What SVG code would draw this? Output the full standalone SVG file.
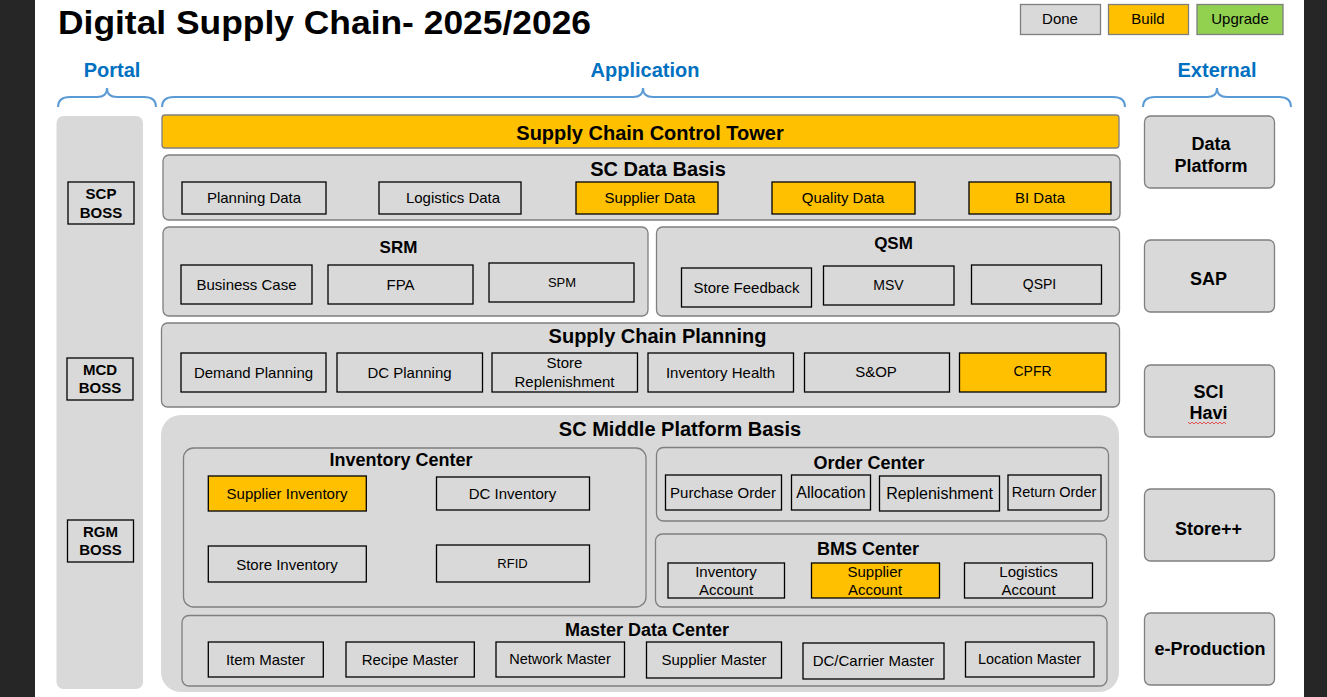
<svg xmlns="http://www.w3.org/2000/svg" width="1327" height="697" viewBox="0 0 1327 697">
<style>
text{font-family:"Liberation Sans",Arial,sans-serif;fill:#000;text-anchor:middle;dominant-baseline:central}
.b{font-weight:bold}
.t18{font-size:18px;font-weight:bold}
.t20{font-size:20px;font-weight:bold}
.t15{font-size:15px}
.blue{fill:#0070c0;font-size:20px;font-weight:bold}
.cont{fill:#d9d9d9;stroke:#7f7f7f;stroke-width:1.3}
.box{fill:#d9d9d9;stroke:#000;stroke-width:1.3}
.yel{fill:#ffc000;stroke:#000;stroke-width:1.3}
.brace{fill:none;stroke:#5b9bd5;stroke-width:2}
</style>
<rect x="0" y="0" width="1327" height="697" fill="#fff"/>
<rect x="0" y="0" width="35" height="697" fill="#262626"/>
<rect x="1304" y="0" width="23" height="697" fill="#262626"/>

<g id="title">
<text x="58" y="22" style="font-size:33px;font-weight:bold;text-anchor:start" textLength="533" lengthAdjust="spacingAndGlyphs">Digital Supply Chain- 2025/2026</text>
</g>

<g id="legend">
<rect x="1020.5" y="4.5" width="80" height="30" fill="#d9d9d9" stroke="#7f7f7f" stroke-width="1.3"/>
<text class="t15" x="1060" y="18">Done</text>
<rect x="1108.5" y="4.5" width="80" height="30" fill="#ffc000" stroke="#7f7f7f" stroke-width="1.3"/>
<text class="t15" x="1148" y="18.5">Build</text>
<rect x="1197" y="4.5" width="86" height="30" fill="#92d050" stroke="#7f7f7f" stroke-width="1.3"/>
<text class="t15" x="1240" y="18.5">Upgrade</text>
</g>

<g id="headers">
<text class="blue" x="112" y="70">Portal</text>
<path class="brace" d="M58,107 Q58,97 70,97 L97,97 Q107,97 107,88 Q107,97 117,97 L144,97 Q156,97 156,107"/>
<text class="blue" x="645" y="70">Application</text>
<path class="brace" d="M162,107 Q162,97 174,97 L633,97 Q643,97 643,88 Q643,97 653,97 L1113,97 Q1125,97 1125,107"/>
<text class="blue" x="1217" y="70">External</text>
<path class="brace" d="M1143,107 Q1143,97 1155,97 L1207,97 Q1217,97 1217,88 Q1217,97 1227,97 L1279,97 Q1291,97 1291,107"/>
</g>

<g id="portal">
<rect x="56.5" y="116" width="86.5" height="573" rx="7" fill="#d9d9d9"/>
<g id="scp-boss">
<rect class="box" x="68" y="182" width="66" height="42"/>
<text class="b" style="font-size:15px" x="101" y="193">SCP</text>
<text class="b" style="font-size:15px" x="101" y="212">BOSS</text>
</g>
<g id="mcd-boss">
<rect class="box" x="67" y="358" width="66" height="42"/>
<text class="b" style="font-size:15px" x="100" y="369.5">MCD</text>
<text class="b" style="font-size:15px" x="100" y="387.5">BOSS</text>
</g>
<g id="rgm-boss">
<rect class="box" x="67.5" y="520" width="66" height="42"/>
<text class="b" style="font-size:15px" x="100.5" y="531">RGM</text>
<text class="b" style="font-size:15px" x="100.5" y="549">BOSS</text>
</g>
</g>

<g id="control-tower">
<rect x="162" y="115" width="957" height="33" rx="3" fill="#ffc000" stroke="#7f7f7f" stroke-width="1.3"/>
<text class="t20" x="650" y="133">Supply Chain Control Tower</text>
</g>

<g id="sc-data-basis">
<rect class="cont" x="163" y="155" width="957" height="65" rx="6"/>
<text class="t20" x="658" y="168.5">SC Data Basis</text>
<g id="planning-data"><rect class="box" x="182" y="182" width="144" height="32"/><text class="t15" x="254" y="197">Planning Data</text></g>
<g id="logistics-data"><rect class="box" x="379" y="182" width="142" height="32"/><text class="t15" x="453" y="197">Logistics Data</text></g>
<g id="supplier-data"><rect class="yel" x="576" y="182" width="142" height="32"/><text class="t15" x="650" y="197">Supplier Data</text></g>
<g id="quality-data"><rect class="yel" x="772" y="182" width="143" height="32"/><text class="t15" x="843" y="197">Quality Data</text></g>
<g id="bi-data"><rect class="yel" x="969" y="182" width="142" height="32"/><text class="t15" x="1040" y="197">BI Data</text></g>
</g>

<g id="srm">
<rect class="cont" x="163" y="227" width="485" height="89" rx="6"/>
<text class="b" style="font-size:17px" x="398.5" y="247.5">SRM</text>
<g id="business-case"><rect class="box" x="181" y="265" width="131" height="39"/><text class="t15" x="246.5" y="284">Business Case</text></g>
<g id="fpa"><rect class="box" x="328" y="265" width="145" height="39"/><text class="t15" x="400.5" y="284">FPA</text></g>
<g id="spm"><rect class="box" x="489" y="263" width="145" height="39"/><text style="font-size:13px" x="562" y="282">SPM</text></g>
</g>

<g id="qsm">
<rect class="cont" x="656.5" y="227" width="463" height="89" rx="6"/>
<text class="b" style="font-size:17px" x="893.5" y="243">QSM</text>
<g id="store-feedback"><rect class="box" x="681.5" y="268" width="130" height="39"/><text class="t15" x="746.5" y="287">Store Feedback</text></g>
<g id="msv"><rect class="box" x="823.5" y="266" width="130.5" height="39"/><text style="font-size:14px" x="888.5" y="284.5">MSV</text></g>
<g id="qspi"><rect class="box" x="971.5" y="265" width="130" height="39"/><text style="font-size:14px" x="1039.5" y="283.5">QSPI</text></g>
</g>

<g id="supply-chain-planning">
<rect class="cont" x="161.5" y="323" width="958" height="84" rx="6"/>
<text class="t20" x="657.5" y="336">Supply Chain Planning</text>
<g id="demand-planning"><rect class="box" x="181" y="353" width="145" height="39"/><text class="t15" x="253.5" y="372">Demand Planning</text></g>
<g id="dc-planning"><rect class="box" x="337" y="353" width="145.5" height="39"/><text class="t15" x="409.5" y="372">DC Planning</text></g>
<g id="store-replenishment"><rect class="box" x="492" y="353" width="145.5" height="39"/><text class="t15" x="564.5" y="362">Store</text><text class="t15" x="564.5" y="381">Replenishment</text></g>
<g id="inventory-health"><rect class="box" x="648" y="353" width="145.5" height="39"/><text class="t15" x="720.5" y="372">Inventory Health</text></g>
<g id="s-op"><rect class="box" x="804.5" y="353" width="145" height="39"/><text class="t15" x="876" y="371">S&amp;OP</text></g>
<g id="cpfr"><rect class="yel" x="959.5" y="353" width="146.5" height="39"/><text style="font-size:14px" x="1032.5" y="371">CPFR</text></g>
</g>

<g id="sc-middle-platform">
<rect x="161" y="415" width="958" height="277" rx="20" fill="#d9d9d9"/>
<text class="t20" x="680" y="429">SC Middle Platform Basis</text>

<g id="inventory-center">
<rect class="cont" x="183.5" y="448" width="462.5" height="159" rx="10"/>
<text class="t18" x="401" y="460">Inventory Center</text>
<g id="supplier-inventory"><rect class="yel" x="208.3" y="476" width="158" height="35"/><text class="t15" x="287" y="493">Supplier Inventory</text></g>
<g id="dc-inventory"><rect class="box" x="436.5" y="477" width="153" height="33"/><text class="t15" x="512.5" y="493">DC Inventory</text></g>
<g id="store-inventory"><rect class="box" x="208.3" y="546" width="158" height="36"/><text class="t15" x="287" y="564">Store Inventory</text></g>
<g id="rfid"><rect class="box" x="436.5" y="545" width="153" height="37"/><text style="font-size:13px" x="512.5" y="563">RFID</text></g>
</g>

<g id="order-center">
<rect class="cont" x="656.5" y="447.5" width="452" height="73.5" rx="7"/>
<text class="t18" x="869" y="463">Order Center</text>
<g id="purchase-order"><rect class="box" x="665.5" y="475" width="116" height="35"/><text class="t15" x="723" y="492">Purchase Order</text></g>
<g id="allocation"><rect class="box" x="791.5" y="475" width="79" height="35"/><text style="font-size:16px" x="831" y="492">Allocation</text></g>
<g id="replenishment"><rect class="box" x="879.5" y="476" width="120" height="35"/><text style="font-size:16px" x="939.5" y="493">Replenishment</text></g>
<g id="return-order"><rect class="box" x="1008" y="475" width="93" height="35"/><text style="font-size:14.5px" x="1054" y="492">Return Order</text></g>
</g>

<g id="bms-center">
<rect class="cont" x="655.5" y="534" width="451" height="73" rx="7"/>
<text class="t18" x="868" y="549">BMS Center</text>
<g id="inventory-account"><rect class="box" x="668" y="563" width="116.5" height="35"/><text class="t15" x="726" y="571">Inventory</text><text class="t15" x="726" y="589.5">Account</text></g>
<g id="supplier-account"><rect class="yel" x="811.5" y="563" width="128" height="35"/><text class="t15" x="875" y="571">Supplier</text><text class="t15" x="875" y="589.5">Account</text></g>
<g id="logistics-account"><rect class="box" x="964.5" y="563" width="128" height="35"/><text class="t15" x="1028.5" y="571">Logistics</text><text class="t15" x="1028.5" y="589">Account</text></g>
</g>

<g id="master-data-center">
<rect class="cont" x="182" y="615.5" width="925" height="70.5" rx="7"/>
<text class="t18" x="647" y="629.5">Master Data Center</text>
<g id="item-master"><rect class="box" x="208.3" y="642" width="115" height="35"/><text class="t15" x="265.5" y="659">Item Master</text></g>
<g id="recipe-master"><rect class="box" x="346" y="642" width="128.3" height="35"/><text class="t15" x="410" y="659">Recipe Master</text></g>
<g id="network-master"><rect class="box" x="496" y="642" width="128.5" height="35"/><text style="font-size:14.5px" x="560" y="659">Network Master</text></g>
<g id="supplier-master"><rect class="box" x="646.5" y="642" width="135" height="36"/><text class="t15" x="714" y="659">Supplier Master</text></g>
<g id="dc-carrier-master"><rect class="box" x="803" y="643" width="141" height="36"/><text class="t15" x="873.5" y="660">DC/Carrier Master</text></g>
<g id="location-master"><rect class="box" x="965.5" y="642" width="128.5" height="35"/><text style="font-size:14.5px" x="1029.5" y="659">Location Master</text></g>
</g>
</g>

<g id="external">
<g id="data-platform"><rect class="cont" x="1144.5" y="116" width="130" height="72" rx="6"/><text class="t18" x="1211" y="144">Data</text><text class="t18" x="1211" y="166">Platform</text></g>
<g id="sap"><rect class="cont" x="1144.5" y="240" width="130" height="72" rx="6"/><text class="t18" x="1208.5" y="279">SAP</text></g>
<g id="sci-havi"><rect class="cont" x="1144.5" y="365" width="130" height="72" rx="6"/><text class="t18" x="1208.5" y="391.5">SCI</text><text class="t18" x="1208.5" y="413">Havi</text>
<path d="M1188,422 l2,2 l2,-2 l2,2 l2,-2 l2,2 l2,-2 l2,2 l2,-2 l2,2 l2,-2 l2,2 l2,-2 l2,2 l2,-2 l2,2 l2,-2 l2,2 l2,-2 l2,2" fill="none" stroke="#e03030" stroke-width="0.8"/></g>
<g id="store-plus"><rect class="cont" x="1144.5" y="489" width="130" height="72" rx="6"/><text class="t18" x="1208.5" y="529">Store++</text></g>
<g id="e-production"><rect class="cont" x="1144.5" y="613" width="130" height="72" rx="6"/><text class="t18" x="1210" y="649">e-Production</text></g>
</g>

<g id="connectors"></g>
</svg>
